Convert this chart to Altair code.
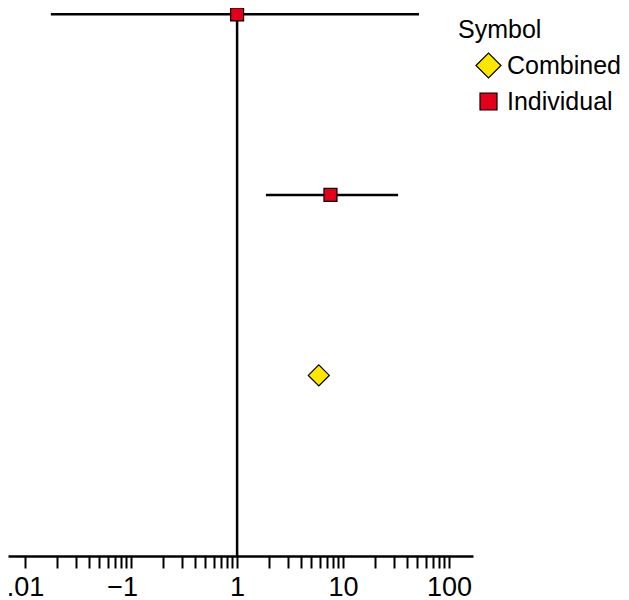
import altair as alt
import pandas as pd

# ---- data ----
symbols = ["Individual", "Individual", "Combined"]
estimates = [1.0, 7.6, 5.9]
lowers = [0.0175, 1.87, None]
uppers = [52.0, 33.0, None]
rows = [3, 2, 1]

tick_values = [0.01, 0.02, 0.03, 0.04, 0.05, 0.06, 0.07, 0.08, 0.09,
               0.1, 0.2, 0.3, 0.4, 0.5, 0.6, 0.7, 0.8, 0.9,
               1, 2, 3, 4, 5, 6, 7, 8, 9,
               10, 20, 30, 40, 50, 60, 70, 80, 90, 100]
label_values = [0.01, 0.1, 1, 10, 100]
label_texts = [".01", "\u22121", "1", "10", "100"]

ref_x = [1]
sym_domain = ["Combined", "Individual"]
sym_shapes = ["diamond", "square"]
sym_fills = ["#FFE600", "#E2001A"]

df = pd.DataFrame({"Symbol": symbols, "est": estimates, "lo": lowers,
                   "hi": uppers, "row": rows})
ci = df.dropna()
ref = pd.DataFrame({"x": ref_x, "y0": [0], "y1": [3]})

label_expr = " : ".join(
    f"datum.value == {v} ? '{t}'" for v, t in zip(label_values, label_texts)
) + " : ''"

xscale = alt.Scale(type="log", domain=[0.0069, 168], nice=False)
yscale = alt.Scale(domain=[0, 3.035], nice=False, zero=False)

xaxis = alt.Axis(values=tick_values, labelExpr=label_expr, title=None,
                 grid=False, tickSize=12, tickWidth=2, tickColor="black",
                 domainColor="black", domainWidth=2.5, labelFontSize=27,
                 labelColor="black", labelFont="Liberation Sans",
                 labelPadding=6, labelFlush=False, labelOverlap=False,
                 labelOffset={"condition": {"test": "datum.value == 0.1", "value": -9},
                              "value": 0})

refline = alt.Chart(ref).mark_rule(color="black", strokeWidth=2.5).encode(
    x=alt.X("x:Q", scale=xscale, axis=xaxis),
    y=alt.Y("y0:Q", scale=yscale, axis=None),
    y2="y1:Q",
)

bars = alt.Chart(ci).mark_rule(color="black", strokeWidth=2.5).encode(
    x=alt.X("lo:Q", scale=xscale, axis=xaxis),
    x2="hi:Q",
    y=alt.Y("row:Q", scale=yscale, axis=None),
)

points = alt.Chart(df).mark_point(filled=True, opacity=1).encode(
    x=alt.X("est:Q", scale=xscale, axis=xaxis),
    y=alt.Y("row:Q", scale=yscale, axis=None),
    shape=alt.Shape("Symbol:N", scale=alt.Scale(domain=sym_domain, range=sym_shapes),
                    legend=None),
    fill=alt.Fill("Symbol:N", scale=alt.Scale(domain=sym_domain, range=sym_fills),
                  legend=None),
    size=alt.Size("Symbol:N", scale=alt.Scale(domain=sym_domain, range=[441, 169]),
                  legend=None),
    stroke=alt.value("black"),
    strokeWidth=alt.value(1.2),
)

legend = alt.Legend(orient="none", legendX=450, legendY=10, title="Symbol",
                    titleFontSize=25, titleFont="Liberation Sans",
                    titleFontWeight="normal", titleColor="black",
                    labelFontSize=25, labelFont="Liberation Sans",
                    labelColor="black", symbolOffset=17, labelOffset=5,
                    rowPadding=8, titlePadding=9,
                    symbolOpacity=1, symbolStrokeWidth=1.2)

# legend-only layer (no rows drawn) so the key can use larger symbols
legend_layer = alt.Chart(df).mark_point(filled=True, opacity=1).encode(
    x=alt.X("est:Q", scale=xscale, axis=xaxis),
    y=alt.Y("row:Q", scale=yscale, axis=None),
    shape=alt.Shape("Symbol:N", scale=alt.Scale(domain=sym_domain, range=sym_shapes),
                    legend=legend),
    fill=alt.Fill("Symbol:N", scale=alt.Scale(domain=sym_domain, range=sym_fills),
                  legend=legend),
    size=alt.Size("Symbol:N", scale=alt.Scale(domain=sym_domain, range=[625, 289]),
                  legend=legend),
    stroke=alt.value("black"),
    strokeWidth=alt.value(1.2),
).transform_filter("false")

chart = alt.layer(refline, bars, points, legend_layer).resolve_scale(
    shape="independent", fill="independent", size="independent"
).properties(
    width=465, height=548,
    background="white",
    autosize=alt.AutoSizeParams(type="none"),
    padding={"left": 0, "top": 0, "right": 148, "bottom": 44},
).configure_view(strokeWidth=0, stroke=None)

chart.save("out.html", embed_options={"renderer": "svg", "actions": False})
